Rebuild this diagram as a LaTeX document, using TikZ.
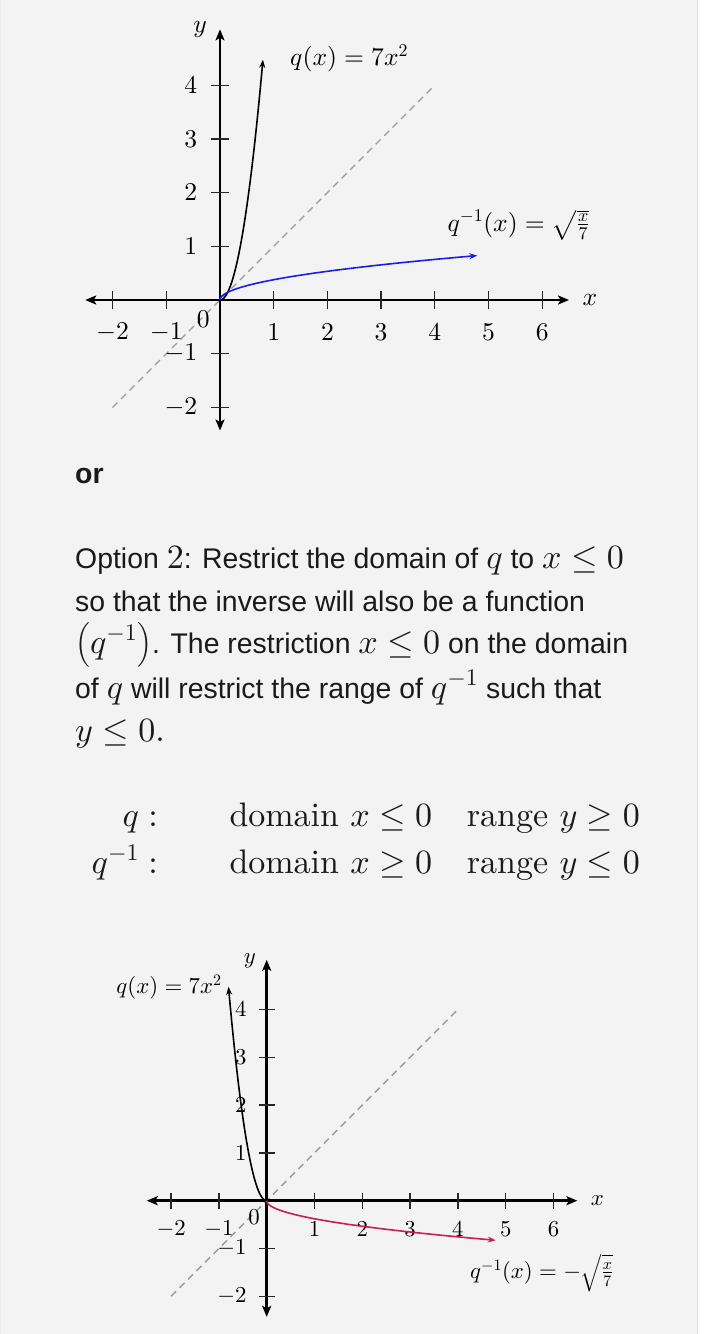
\RequirePackage{fix-cm}
\documentclass[tikz,border=0pt]{standalone}
\usepackage{amsmath}
\usepackage{fontspec}
\setmainfont{lmroman10-regular}[Extension=.otf]
\setsansfont{Liberation Sans}
\DeclareFontShape{OML}{cmm}{m}{it}{<->cmmi10}{}
\DeclareFontShape{OT1}{cmr}{m}{n}{<->cmr10}{}
\usetikzlibrary{arrows.meta}
\definecolor{bg}{HTML}{F3F3F3}
\definecolor{dashgray}{HTML}{9A9A9A}
\definecolor{txt}{HTML}{1A1A1A}
\definecolor{curveblue}{RGB}{28,28,235}
\definecolor{curvered}{RGB}{200,30,82}
\newcommand\mm[1]{{\fontsize{34}{40}\selectfont$#1$}}
\tikzset{
  axisline/.style={line width=2.6pt,
    {Stealth[length=11pt,width=9pt,inset=2.5pt]}-{Stealth[length=11pt,width=9pt,inset=2.5pt]}},
  tickline/.style={line width=1.3pt, black!85},
  diag/.style={dashgray, line width=1.4pt, dash pattern=on 7pt off 5pt},
  curvepath/.style={line width=1.6pt, -{Stealth[length=8pt,width=6pt]}},
  ticklab/.style={inner sep=0pt, text=black},
  bodytext/.style={anchor=base west, inner sep=0pt, text=txt,
    font=\sffamily\fontsize{28.4}{34}\selectfont},
  tabtext/.style={anchor=base west, inner sep=0pt, text=txt,
    font=\fontsize{34}{40}\selectfont},
}
% axes, ticks and tick labels of one graph: #1 name prefix, #2 font size
\newcommand\graphframe[2]{%
  \coordinate (#1L) at (-2.51,0);
  \coordinate (#1R) at (6.5,0);
  \coordinate (#1B) at (0,-2.43);
  \coordinate (#1T) at (0,5.04);
  \coordinate (#1dA) at (-2,-2);
  \coordinate (#1dB) at (4,4);
  \draw[diag] (#1dA) -- (#1dB);
  \draw[axisline] (#1L) -- (#1R);
  \draw[axisline] (#1B) -- (#1T);
  \foreach \k/\n in {-2/a,-1/b,1/c,2/d,3/e,4/f,5/g,6/h}{
    \draw[tickline] (\k,-0.17) -- (\k,0.17);
    \node[ticklab, font=\fontsize{#2}{#2}\selectfont] (#1x\n) at (\k,-0.6) {$\k$};
  }
  \foreach \k/\n in {-2/a,-1/b,1/c,2/d,3/e,4/f}{
    \draw[tickline] (-0.17,\k) -- (0.17,\k);
    \node[ticklab, anchor=east, font=\fontsize{#2}{#2}\selectfont] (#1y\n) at (-0.42,\k) {$\k$};
  }
}
\begin{document}
\begin{tikzpicture}[x=1pt,y=-1pt]
\useasboundingbox (0,0) rectangle (720,1334);
\fill[white] (0,0) rectangle (720,1334);
\fill[bg] (0,0) rectangle (697.5,1334);
\draw[black!13, line width=1.5pt] (697.5,0) -- (697.5,1334);
\draw[black!8, line width=1.2pt] (0.6,0) -- (0.6,1334);

% ---------- top graph ----------
\begin{scope}[shift={(220,300)}, x=53.7pt, y=53.7pt]
  \graphframe{t}{25.6}
  \node[ticklab, font=\fontsize{25.6}{25.6}\selectfont] (tzero) at (-0.31,-0.36) {$0$};
  \node[ticklab, font=\fontsize{25.6}{25.6}\selectfont] (tylab) at (-0.37,5.03) {$y$};
  \node[ticklab, font=\fontsize{25.6}{25.6}\selectfont] (txlab) at (6.89,0) {$x$};
  \draw[curvepath] plot[domain=0:0.8, samples=60, smooth] (\x,{7*\x*\x});
  \draw[curvepath, curveblue] plot[domain=0:0.828, samples=60, smooth, variable=\t] ({7*\t*\t},\t);
  \node[ticklab, anchor=west, font=\fontsize{25.6}{25.6}\selectfont] (tq) at (1.304,4.5) {$q(x) = 7x^2$};
  \node[ticklab, anchor=west, font=\fontsize{25.6}{25.6}\selectfont] (tqi) at (4.233,1.397) {$q^{-1}(x) = \sqrt{\frac{x}{7}}$};
\end{scope}

% ---------- text ----------
\node[bodytext] (or) at (75,483) {\bfseries or};
\node[bodytext] (l1) at (75,568.3) {Option \mm{2}: Restrict the domain of \mm{q} to \mm{x \le 0}};
\node[bodytext] (l2) at (75,611.7) {so that the inverse will also be a function};
\node[bodytext] (l3) at (75,653.3) {\mm{\bigl(q^{-1}\bigr)}. The restriction \mm{x \le 0} on the domain};
\node[bodytext] (l4) at (75,698.3) {of \mm{q} will restrict the range of \mm{q^{-1}} such that};
\node[bodytext] (l5) at (75,741.7) {\mm{y \le 0.}};

\node[tabtext, anchor=base east] (r1a) at (158,826) {$q :$};
\node[tabtext] (r1b) at (229.3,826) {domain $x \le 0$};
\node[tabtext] (r1c) at (466.7,826) {range $y \ge 0$};
\node[tabtext, anchor=base east] (r2a) at (158,873) {$q^{-1} :$};
\node[tabtext] (r2b) at (229.3,873) {domain $x \ge 0$};
\node[tabtext] (r2c) at (466.7,873) {range $y \le 0$};

% ---------- bottom graph ----------
\begin{scope}[shift={(266.7,1200.7)}, x=47.8pt, y=47.8pt]
  \graphframe{b}{22.8}
  \node[ticklab, font=\fontsize{22.8}{22.8}\selectfont] (bzero) at (-0.266,-0.34) {$0$};
  \node[ticklab, font=\fontsize{22.8}{22.8}\selectfont] (bylab) at (-0.35,5.02) {$y$};
  \node[ticklab, font=\fontsize{22.8}{22.8}\selectfont] (bxlab) at (6.92,0) {$x$};
  \draw[curvepath] plot[domain=0:0.8, samples=60, smooth] ({-\x},{7*\x*\x});
  \draw[curvepath, curvered] plot[domain=0:0.828, samples=60, smooth, variable=\t] ({7*\t*\t},{-\t});
  \node[ticklab, anchor=east, font=\fontsize{22.8}{22.8}\selectfont] (bq) at (-0.941,4.47) {$q(x) = 7x^2$};
  \node[ticklab, anchor=west, font=\fontsize{22.8}{22.8}\selectfont] (bqi) at (4.253,-1.516) {$q^{-1}(x) = -\sqrt{\frac{x}{7}}$};
\end{scope}
\end{tikzpicture}
\end{document}
